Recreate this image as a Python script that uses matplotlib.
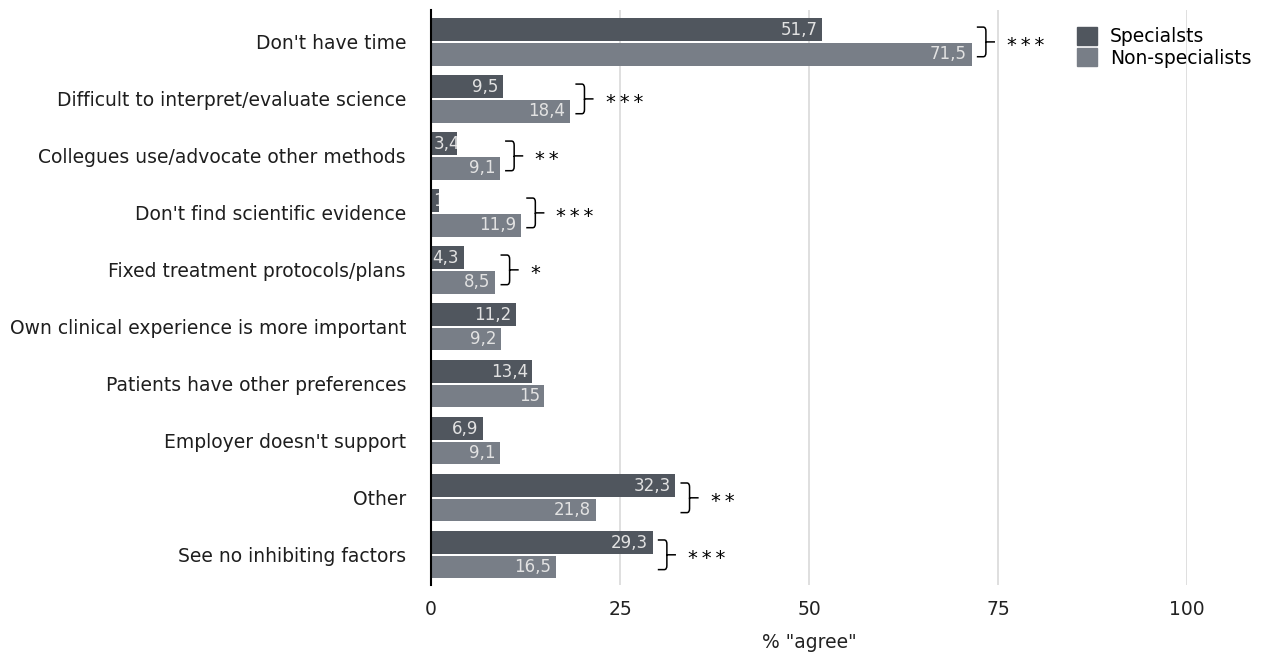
import matplotlib
matplotlib.use("Agg")
import matplotlib.pyplot as plt
from matplotlib.path import Path
from matplotlib.patches import PathPatch, Patch
import numpy as np

plt.rcParams["font.family"] = ["DejaVu Sans"]

categories = [
    "Don't have time",
    "Difficult to interpret/evaluate science",
    "Collegues use/advocate other methods",
    "Don't find scientific evidence",
    "Fixed treatment protocols/plans",
    "Own clinical experience is more important",
    "Patients have other preferences",
    "Employer doesn't support",
    "Other",
    "See no inhibiting factors",
]
specialists = [51.7, 9.5, 3.4, 1, 4.3, 11.2, 13.4, 6.9, 32.3, 29.3]
non_specialists = [71.5, 18.4, 9.1, 11.9, 8.5, 9.2, 15, 9.1, 21.8, 16.5]
significance = ["***", "***", "**", "***", "*", "", "", "", "**", "***"]
xticks = [0, 25, 50, 75, 100]
series_names = ["Specialsts", "Non-specialists"]

c_dark = "#50565e"
c_light = "#787e87"

fig = plt.figure(figsize=(12.63, 6.53), dpi=100)
ax = fig.add_axes([431 / 1263, 1 - 585 / 653, (1187 - 431) / 1263, (585 - 10) / 653])

y = np.arange(len(categories))
h = 0.40
off = 0.215

bars1 = ax.barh(y - off, specialists, height=h, color=c_dark, zorder=3)
bars2 = ax.barh(y + off, non_specialists, height=h, color=c_light, zorder=3)

def fmt(v):
    return ("%g" % v).replace(".", ",")

for bars, vals in ((bars1, specialists), (bars2, non_specialists)):
    for b, v in zip(bars, vals):
        if v < 4.0:
            xpos, ha = 0.3, "left"
        else:
            xpos, ha = v - 0.6, "right"
        t = ax.text(xpos, b.get_y() + b.get_height() / 2, fmt(v), ha=ha, va="center",
                    color="#e2e2e2", fontsize=12, zorder=4)
        t.set_clip_path(b)
        t.set_clip_on(True)

# significance braces
for i, s in enumerate(significance):
    if not s:
        continue
    x0 = max(specialists[i], non_specialists[i]) + 0.7
    hw = 1.2   # hook width
    tw = 1.2   # tick width
    xv = x0 + hw
    yt = i - 0.26
    yb = i + 0.26
    verts = [
        (x0, yt), (xv - 0.35, yt), (xv, yt), (xv, yt + 0.07),
        (xv, i), (xv + tw, i),
        (xv, i), (xv, yb - 0.07), (xv, yb), (xv - 0.35, yb), (x0, yb),
    ]
    codes = [Path.MOVETO, Path.LINETO, Path.CURVE3, Path.CURVE3,
             Path.LINETO, Path.LINETO,
             Path.MOVETO, Path.LINETO, Path.CURVE3, Path.CURVE3, Path.LINETO]
    ax.add_patch(PathPatch(Path(verts, codes), fill=False, lw=1.1, color="black",
                           zorder=5, clip_on=False, capstyle="butt"))
    ax.text(xv + tw + 1.6, i + 0.06, "\u2009".join(s), ha="left", va="center", fontsize=14,
            color="black", zorder=5)

ax.set_xlim(0, 100)
ax.set_ylim(len(categories) - 0.47, -0.56)
ax.set_yticks(y)
ax.set_yticklabels(categories, fontsize=13.5, color="#1e1e1e")
ax.set_xticks(xticks)
ax.set_xticklabels([str(t) for t in xticks], fontsize=13.5, color="#222222")
ax.tick_params(axis="both", length=0)
ax.tick_params(axis="y", pad=18)
ax.tick_params(axis="x", pad=11)
for t in xticks[1:]:
    ax.axvline(t, color="#d9d9d9", lw=1.2, zorder=1)
for sp in ["top", "right", "bottom"]:
    ax.spines[sp].set_visible(False)
ax.spines["left"].set_color("black")
ax.spines["left"].set_linewidth(1.5)
ax.spines["left"].set_zorder(6)
ax.set_xlabel('% "agree"', fontsize=13.5, color="#222222", labelpad=10)

handles = [Patch(color=c_dark), Patch(color=c_light)]
fig.legend(handles, series_names, loc="upper left", bbox_to_anchor=(1077 / 1263, 1 - 27 / 653),
           frameon=False, fontsize=13.5, handlelength=1.07, handleheight=1.07,
           handletextpad=0.7, labelspacing=0.12, borderaxespad=0, borderpad=0)

fig.savefig("out.png", dpi=100)
